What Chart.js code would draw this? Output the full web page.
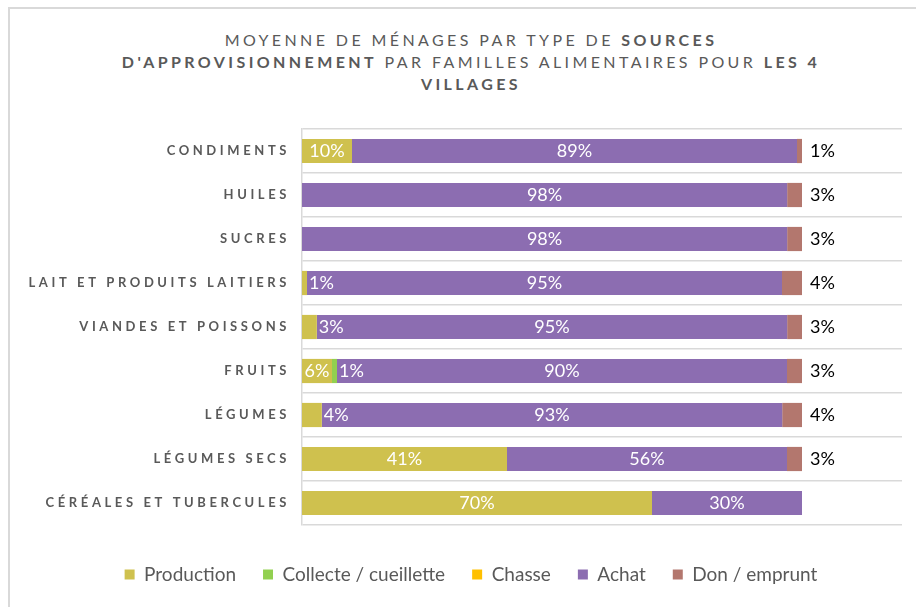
<!DOCTYPE html>
<html>
<head>
<meta charset="utf-8">
<script src="https://cdn.jsdelivr.net/npm/chart.js@4.4.1/dist/chart.umd.min.js"></script>
<style>
  html, body { margin: 0; padding: 0; width: 916px; height: 607px; overflow: hidden; background: #fff; }
  #frame { position: absolute; left: 8px; top: 7px; width: 1000px; height: 700px; border: 2px solid #d9d9d9; }
  #title {
    position: absolute; left: 0; top: 29px; width: 942px; text-align: center;
    font-family: Lato, sans-serif; font-size: 16px; letter-spacing: 3.4px; line-height: 22px; color: #595959;
  }
  #title b { font-weight: 700; }
  #wrap { position: absolute; left: 0; top: 0; width: 916px; height: 607px; }
</style>
</head>
<body>
<div id="frame"></div>
<div id="title">MOYENNE DE MÉNAGES PAR TYPE DE <b>SOURCES</b><br><b>D'APPROVISIONNEMENT</b> PAR FAMILLES ALIMENTAIRES POUR <b>LES 4</b><br><b>VILLAGES</b></div>
<div id="wrap"><canvas id="chart" width="916" height="607"></canvas></div>
<script>
// categories, top to bottom
const categories = ["CONDIMENTS", "HUILES", "SUCRES", "LAIT ET PRODUITS LAITIERS", "VIANDES ET POISSONS",
                    "FRUITS", "LÉGUMES", "LÉGUMES SECS", "CÉRÉALES ET TUBERCULES"];

// % of households per source
const production = [10, 0, 0, 1, 3, 6, 4, 41, 70];
const collecte   = [0, 0, 0, 0, 0, 1, 0, 0, 0];
const chasse     = [0, 0, 0, 0, 0, 0, 0, 0, 0];
const achat      = [89, 98, 98, 95, 95, 90, 93, 56, 30];
const don        = [1, 3, 3, 4, 3, 3, 4, 3, 0];

const seriesNames  = ["Production", "Collecte / cueillette", "Chasse", "Achat", "Don / emprunt"];
const seriesColors = ["#cfc14e", "#92d050", "#ffc000", "#8c6db1", "#b3776e"];
const seriesValues = [production, collecte, chasse, achat, don];

// 100% stacked: each bar is scaled to its own total
const totals = categories.map((c, i) => seriesValues.reduce((s, arr) => s + arr[i], 0));

const datasets = seriesValues.map((vals, k) => ({
    label: seriesNames[k],
    data: vals.map((v, i) => v / totals[i] * 100),
    raw: vals,
    backgroundColor: seriesColors[k],
    barPercentage: 0.55,
    categoryPercentage: 1
}));

// draws the % labels on / next to the bars
const barLabels = {
    id: "barLabels",
    afterDatasetsDraw(chart) {
        const ctx = chart.ctx;
        ctx.save();
        ctx.font = "18px Lato";
        ctx.textBaseline = "middle";
        chart.data.datasets.forEach((ds, k) => {
            chart.getDatasetMeta(k).data.forEach((bar, i) => {
                const v = ds.raw[i];
                if (!v) return;
                const txt = v + "%";
                const left = Math.min(bar.base, bar.x), right = Math.max(bar.base, bar.x);
                if (k === seriesValues.length - 1) {
                    ctx.fillStyle = "#000";
                    ctx.textAlign = "left";
                    ctx.fillText(txt, right + 8, bar.y);
                } else if (right - left < 25) {
                    ctx.fillStyle = "#fff";
                    ctx.textAlign = "left";
                    ctx.fillText(txt, right + 2, bar.y);
                } else {
                    ctx.fillStyle = "#fff";
                    ctx.textAlign = "center";
                    ctx.fillText(txt, (left + right) / 2, bar.y);
                }
            });
        });
        ctx.restore();
    }
};

// category names with letter spacing
const catLabels = {
    id: "catLabels",
    afterDraw(chart) {
        const ctx = chart.ctx, ys = chart.scales.y;
        ctx.save();
        ctx.font = "bold 13px Lato";
        ctx.letterSpacing = "3.6px";
        ctx.fillStyle = "#595959";
        ctx.textAlign = "right";
        ctx.textBaseline = "middle";
        categories.forEach((c, i) => ctx.fillText(c, ys.right - 12, ys.getPixelForValue(i)));
        ctx.restore();
    }
};

new Chart(document.getElementById("chart"), {
    type: "bar",
    data: { labels: categories, datasets: datasets },
    options: {
        indexAxis: "y",
        responsive: false,
        animation: false,
        layout: { padding: { top: 129, left: 40, right: 14, bottom: 13 } },
        scales: {
            x: {
                stacked: true, min: 0, max: 120,
                grid: { display: false }, border: { display: false },
                ticks: { display: false },
                afterFit: s => { s.height = 13; }
            },
            y: {
                stacked: true,
                grid: { color: "#d9d9d9", lineWidth: 1.5, drawTicks: false },
                border: { color: "#d9d9d9", width: 1.5 },
                ticks: { display: false },
                afterFit: s => { s.width = 262; }
            }
        },
        plugins: {
            tooltip: { enabled: false },
            title: { display: false },
            legend: {
                position: "bottom",
                labels: {
                    boxWidth: 10, boxHeight: 10, padding: 27,
                    color: "#595959",
                    font: { family: "Lato", size: 19 }
                }
            }
        }
    },
    plugins: [barLabels, catLabels]
});
</script>
</body>
</html>
